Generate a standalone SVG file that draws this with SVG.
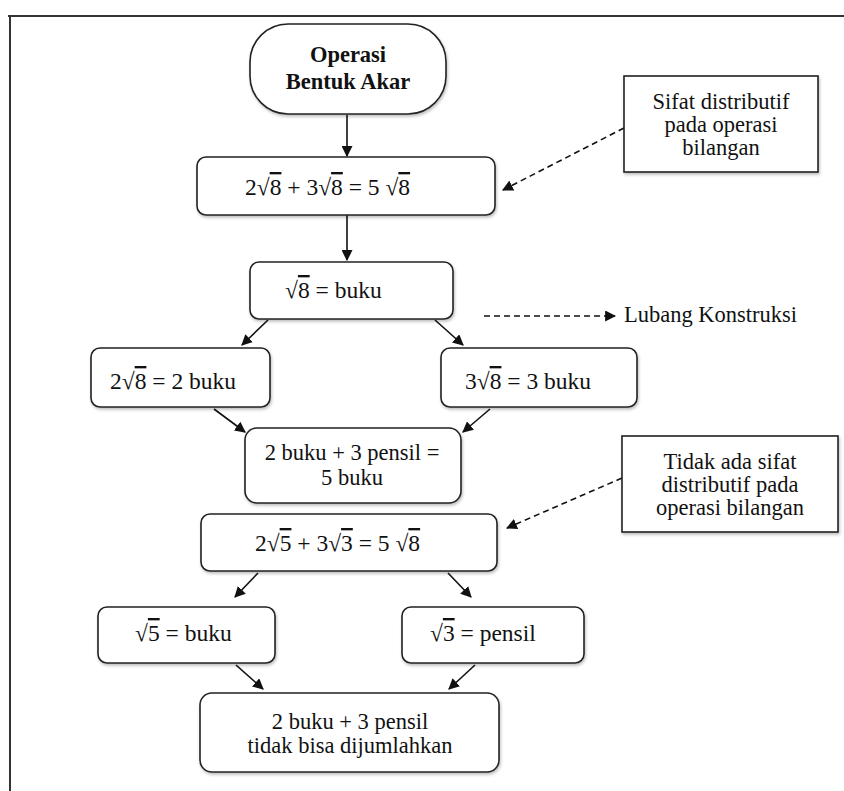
<svg xmlns="http://www.w3.org/2000/svg" width="844" height="791" viewBox="0 0 844 791">
<defs>
<style>
.box{fill:#fff;stroke:#222;stroke-width:1.6}
.t{font-family:"Liberation Serif","Times New Roman",serif;font-size:22.5px;fill:#111}
.b{font-weight:bold}
.m{font-family:"Liberation Serif","Times New Roman",serif;font-size:23.5px;fill:#111}
.c{text-anchor:middle}
.ov{text-decoration:overline}
.con{stroke:#111;stroke-width:1.6;fill:none}
.dash{stroke:#111;stroke-width:1.6;fill:none;stroke-dasharray:6 4}
</style>
<marker id="ah" viewBox="0 0 10 10" refX="9" refY="5" markerWidth="11" markerHeight="11" markerUnits="userSpaceOnUse" orient="auto">
<path d="M0,0 L10,5 L0,10 z" fill="#111"/>
</marker>
<filter id="sh" x="-10%" y="-10%" width="120%" height="130%">
<feDropShadow dx="1" dy="2" stdDeviation="1.5" flood-color="#000" flood-opacity="0.25"/>
</filter>
</defs>
<rect width="844" height="791" fill="#fff"/>
<g id="frame">
<line x1="8" y1="16" x2="844" y2="16" stroke="#333" stroke-width="2"/>
<line x1="10" y1="16" x2="10" y2="791" stroke="#333" stroke-width="2"/>
</g>
<g id="connectors">
<line class="con" x1="347" y1="115" x2="347" y2="156" marker-end="url(#ah)"/>
<line class="con" x1="347" y1="215" x2="347" y2="260" marker-end="url(#ah)"/>
<line class="con" x1="268" y1="320" x2="242" y2="345" marker-end="url(#ah)"/>
<line class="con" x1="435" y1="320" x2="463" y2="345" marker-end="url(#ah)"/>
<line class="con" x1="214" y1="409" x2="245" y2="432" marker-end="url(#ah)"/>
<line class="con" x1="490" y1="409" x2="463" y2="432" marker-end="url(#ah)"/>
<line class="con" x1="258" y1="573" x2="235" y2="597" marker-end="url(#ah)"/>
<line class="con" x1="448" y1="573" x2="471" y2="597" marker-end="url(#ah)"/>
<line class="con" x1="236" y1="665" x2="263" y2="689" marker-end="url(#ah)"/>
<line class="con" x1="475" y1="665" x2="449" y2="689" marker-end="url(#ah)"/>
<line class="dash" x1="624" y1="128" x2="503" y2="190" marker-end="url(#ah)"/>
<line class="dash" x1="622" y1="478" x2="507" y2="528" marker-end="url(#ah)"/>
<line class="dash" x1="484" y1="316" x2="615" y2="316" marker-end="url(#ah)"/>
</g>
<g id="n-start">
<rect class="box" filter="url(#sh)" x="250" y="24" width="196" height="90" rx="38"/>
<text class="t b c" x="348" y="62">Operasi</text>
<text class="t b c" x="348" y="89">Bentuk Akar</text>
</g>
<g id="n-eq1">
<rect class="box" filter="url(#sh)" x="197" y="157" width="298" height="58" rx="9"/>
<text class="m" x="245" y="195">2√<tspan class="ov">8</tspan> + 3√<tspan class="ov">8</tspan> = 5 √<tspan class="ov">8</tspan></text>
</g>
<g id="n-akar8">
<rect class="box" filter="url(#sh)" x="250" y="262" width="203" height="57" rx="9"/>
<text class="m" x="285" y="298">√<tspan class="ov">8</tspan> = buku</text>
</g>
<g id="n-2akar8">
<rect class="box" filter="url(#sh)" x="91" y="348" width="179" height="59" rx="9"/>
<text class="m" x="110" y="389">2√<tspan class="ov">8</tspan> = 2 buku</text>
</g>
<g id="n-3akar8">
<rect class="box" filter="url(#sh)" x="441" y="348" width="196" height="59" rx="9"/>
<text class="m" x="465" y="389">3√<tspan class="ov">8</tspan> = 3 buku</text>
</g>
<g id="n-sum1">
<rect class="box" filter="url(#sh)" x="245" y="428" width="216" height="75" rx="12"/>
<text class="t c" x="352" y="460">2 buku + 3 pensil =</text>
<text class="t c" x="352" y="485">5 buku</text>
</g>
<g id="n-eq2">
<rect class="box" filter="url(#sh)" x="201" y="514" width="296" height="57" rx="9"/>
<text class="m" x="255" y="551">2√<tspan class="ov">5</tspan> + 3√<tspan class="ov">3</tspan> = 5 √<tspan class="ov">8</tspan></text>
</g>
<g id="n-akar5">
<rect class="box" filter="url(#sh)" x="98" y="607" width="177" height="56" rx="9"/>
<text class="m" x="135" y="641">√<tspan class="ov">5</tspan> = buku</text>
</g>
<g id="n-akar3">
<rect class="box" filter="url(#sh)" x="402" y="607" width="182" height="56" rx="9"/>
<text class="m" x="430" y="641">√<tspan class="ov">3</tspan> = pensil</text>
</g>
<g id="n-result">
<rect class="box" filter="url(#sh)" x="200" y="693" width="299" height="79" rx="12"/>
<text class="t c" x="350" y="729">2 buku + 3 pensil</text>
<text class="t c" x="350" y="753">tidak bisa dijumlahkan</text>
</g>
<g id="note1">
<rect class="box" filter="url(#sh)" x="624" y="76" width="194" height="96"/>
<text class="t c" x="721" y="109">Sifat distributif</text>
<text class="t c" x="721" y="132">pada operasi</text>
<text class="t c" x="721" y="155">bilangan</text>
</g>
<g id="note2">
<rect class="box" filter="url(#sh)" x="622" y="436" width="216" height="96"/>
<text class="t c" x="730" y="469">Tidak ada sifat</text>
<text class="t c" x="730" y="492">distributif pada</text>
<text class="t c" x="730" y="515">operasi bilangan</text>
</g>
<g id="label-lubang">
<text class="t" x="624" y="322">Lubang Konstruksi</text>
</g>
</svg>
